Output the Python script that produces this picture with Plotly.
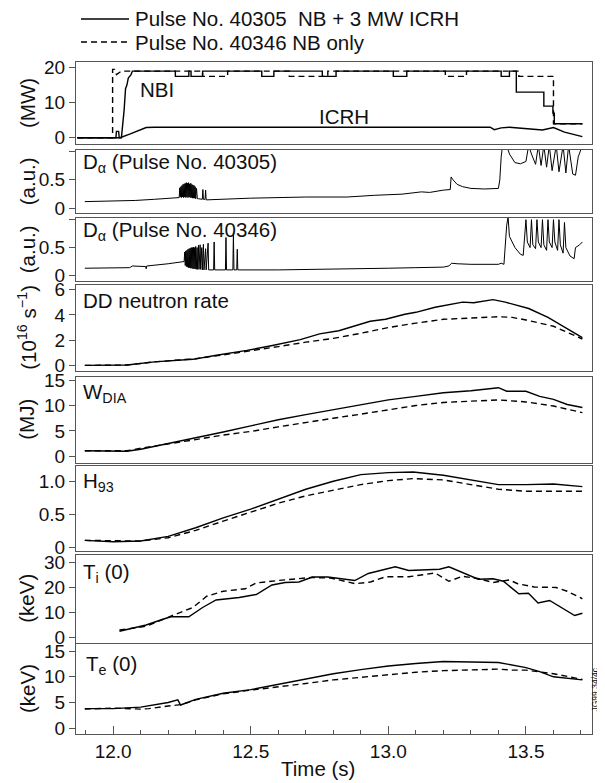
import plotly.graph_objects as go
from plotly.subplots import make_subplots

# ---------------- data ----------------
# Panel 1: heating power (MW)
nbi1_t = [11.87, 12.01, 12.012, 12.02, 12.022, 12.03, 12.04, 12.045, 12.05, 12.055, 12.065, 12.07,
          12.226, 12.226, 12.275, 12.275, 12.283, 12.283, 12.325, 12.325,
          12.54, 12.54, 12.584, 12.584, 12.76, 12.76, 12.81, 12.81,
          13.018, 13.018, 13.067, 13.067, 13.41, 13.41, 13.44, 13.44, 13.465, 13.465,
          13.565, 13.565, 13.598, 13.598, 13.603, 13.603, 13.705]
nbi1_p = [0, 0, 1.8, 1.8, 0, 0, 8, 14, 15, 17, 18, 19,
          19, 17.5, 17.5, 19, 19, 17.5, 17.5, 19,
          19, 17.5, 17.5, 19, 19, 17.5, 17.5, 19,
          19, 17.5, 17.5, 19, 19, 17.5, 17.5, 19, 19, 13,
          13, 9, 9, 7, 7, 4, 4]
nbi2_t = [11.87, 11.998, 11.998, 12.005, 12.012, 12.03, 12.325, 12.325, 12.416, 12.416,
          12.64, 12.64, 12.78, 12.78, 13.207, 13.207, 13.284, 13.284, 13.474, 13.474,
          13.6, 13.6, 13.705]
nbi2_p = [0, 0, 19.5, 19.5, 18, 19, 19, 17.5, 17.5, 19,
          19, 17.5, 17.5, 19, 19, 17.5, 17.5, 19, 19, 17.5,
          17.5, 4, 4]
icrh_t = [11.87, 12.025, 12.06, 12.12, 12.15, 13.37, 13.385, 13.41, 13.44, 13.47, 13.56, 13.6, 13.64, 13.705]
icrh_p = [0, 0, 1.0, 2.9, 3.0, 3.0, 2.3, 2.8, 3.0, 2.8, 2.2, 2.9, 1.6, 0.3]

# Panel 2: D-alpha, pulse 40305 (a.u.)
da1_t = [11.897, 12.0, 12.08, 12.15, 12.2, 12.238,
         12.240, 12.242, 12.244, 12.246, 12.248, 12.250, 12.252, 12.254, 12.256, 12.258,
         12.260, 12.262, 12.264, 12.266, 12.268, 12.270, 12.272, 12.274, 12.276, 12.278,
         12.280, 12.282, 12.284, 12.286, 12.288, 12.290, 12.292, 12.294, 12.296, 12.298,
         12.300, 12.303, 12.306, 12.310, 12.324, 12.326, 12.328, 12.334, 12.336, 12.338,
         12.5, 12.7, 12.85, 12.95, 13.05, 13.12, 13.15, 13.2, 13.225, 13.228, 13.235,
         13.25, 13.27, 13.3, 13.35, 13.4, 13.405, 13.41, 13.415, 13.43, 13.44, 13.46,
         13.48, 13.5, 13.51, 13.52, 13.535, 13.545, 13.555, 13.565, 13.575, 13.585,
         13.595, 13.61, 13.62, 13.635, 13.645, 13.655, 13.67, 13.68, 13.69, 13.705]
da1_v = [0.12, 0.125, 0.14, 0.16, 0.17, 0.18,
         0.19, 0.36, 0.20, 0.38, 0.19, 0.40, 0.20, 0.42, 0.19, 0.43,
         0.20, 0.44, 0.19, 0.45, 0.20, 0.44, 0.19, 0.45, 0.20, 0.43,
         0.19, 0.44, 0.19, 0.42, 0.18, 0.41, 0.18, 0.40, 0.18, 0.38,
         0.17, 0.35, 0.17, 0.17, 0.16, 0.33, 0.16, 0.16, 0.32, 0.15,
         0.18, 0.20, 0.20, 0.23, 0.25, 0.29, 0.28, 0.32, 0.33, 0.55, 0.50,
         0.42, 0.38, 0.35, 0.34, 0.35, 0.50, 0.90, 1.10, 1.10, 0.95, 0.80,
         0.78, 0.82, 1.10, 0.95, 0.77, 1.10, 0.75, 1.10, 0.72, 1.10,
         0.66, 1.10, 0.64, 1.10, 0.62, 1.10, 0.60, 0.58, 0.90, 1.10]

# Panel 3: D-alpha, pulse 40346 (a.u.)
da2_t = [11.897, 12.0, 12.06, 12.07, 12.1, 12.118, 12.12, 12.122, 12.2, 12.256,
         12.258, 12.260, 12.262, 12.264, 12.266, 12.268, 12.270, 12.272, 12.274, 12.276,
         12.278, 12.280, 12.282, 12.284, 12.286, 12.288, 12.290, 12.292, 12.294, 12.296,
         12.298, 12.300, 12.302, 12.305, 12.307, 12.310, 12.312, 12.316, 12.318, 12.322,
         12.324, 12.328, 12.330, 12.336, 12.338, 12.345, 12.347, 12.365, 12.367, 12.369,
         12.408, 12.410, 12.412, 12.435, 12.437, 12.439, 12.449, 12.451, 12.453,
         12.6, 12.8, 13.0, 13.1, 13.2, 13.22, 13.23, 13.25, 13.3, 13.4, 13.41, 13.42,
         13.43, 13.435, 13.44, 13.46, 13.48, 13.49, 13.5, 13.505, 13.515, 13.52, 13.525,
         13.535, 13.54, 13.545, 13.555, 13.56, 13.565, 13.575, 13.58, 13.585, 13.595,
         13.6, 13.605, 13.615, 13.62, 13.625, 13.635, 13.64, 13.645, 13.66, 13.675,
         13.68, 13.695, 13.705]
da2_v = [0.13, 0.13, 0.14, 0.17, 0.17, 0.16, 0.12, 0.17, 0.21, 0.25,
         0.25, 0.42, 0.18, 0.44, 0.16, 0.45, 0.15, 0.47, 0.14, 0.48,
         0.14, 0.49, 0.13, 0.50, 0.13, 0.50, 0.12, 0.51, 0.12, 0.50,
         0.12, 0.52, 0.11, 0.50, 0.11, 0.54, 0.11, 0.55, 0.11, 0.50,
         0.10, 0.56, 0.10, 0.48, 0.10, 0.58, 0.10, 0.10, 0.60, 0.10,
         0.10, 0.68, 0.10, 0.10, 0.75, 0.10, 0.10, 0.47, 0.10,
         0.10, 0.11, 0.13, 0.14, 0.15, 0.17, 0.22, 0.21, 0.20, 0.20, 0.22, 0.20,
         0.90, 1.05, 0.70, 0.50, 0.38, 0.36, 1.00, 0.60, 0.50, 1.00, 0.55,
         0.48, 1.00, 0.60, 0.50, 1.00, 0.55, 0.45, 1.00, 0.60, 0.50,
         1.00, 0.60, 0.45, 1.00, 0.55, 0.40, 0.95, 0.50, 0.35, 0.30,
         0.50, 0.55, 0.60]

# Panel 4: DD neutron rate (10^16 s^-1)
neut_t = [11.897, 12.05, 12.15, 12.29, 12.37, 12.486, 12.57, 12.68, 12.75, 12.82, 12.934,
          12.99, 13.06, 13.1, 13.17, 13.27, 13.31, 13.38, 13.425, 13.51, 13.58, 13.65, 13.705]
neut_1 = [0.02, 0.05, 0.3, 0.5, 0.8, 1.2, 1.55, 2.05, 2.5, 2.75, 3.5,
          3.65, 4.05, 4.2, 4.6, 5.0, 4.95, 5.2, 5.0, 4.5, 3.8, 2.9, 2.2]
neut2_t = [11.897, 12.05, 12.15, 12.3, 12.4, 12.5, 12.6, 12.7, 12.8, 12.9, 13.0, 13.1,
           13.2, 13.3, 13.4, 13.45, 13.5, 13.6, 13.705]
neut_2 = [0.02, 0.05, 0.3, 0.55, 0.85, 1.15, 1.5, 1.85, 2.15, 2.55, 3.0, 3.35,
          3.65, 3.75, 3.85, 3.8, 3.6, 3.1, 2.1]

# Panel 5: diamagnetic energy (MJ)
w_t = [11.897, 12.05, 12.1, 12.2, 12.3, 12.4, 12.5, 12.6, 12.7, 12.8, 12.9, 13.0, 13.1,
       13.2, 13.3, 13.4, 13.43, 13.5, 13.55, 13.6, 13.65, 13.705]
w_1 = [1.1, 1.0, 1.4, 2.5, 3.7, 4.8, 6.0, 7.2, 8.2, 9.2, 10.1, 11.1, 11.8,
       12.5, 12.9, 13.5, 12.8, 12.8, 11.8, 11.2, 10.2, 9.6]
w2_t = [11.897, 12.05, 12.1, 12.2, 12.3, 12.4, 12.5, 12.6, 12.7, 12.8, 12.9, 13.0, 13.1,
        13.2, 13.3, 13.4, 13.5, 13.6, 13.705]
w_2 = [1.1, 1.1, 1.6, 2.4, 3.3, 4.2, 4.9, 5.8, 6.7, 7.5, 8.3, 9.2, 10.0,
       10.6, 10.9, 11.1, 10.7, 9.9, 8.6]

# Panel 6: H93 confinement factor
h_t = [11.897, 12.0, 12.1, 12.2, 12.3, 12.4, 12.5, 12.6, 12.7, 12.8, 12.9, 13.0, 13.09,
       13.2, 13.3, 13.4, 13.5, 13.6, 13.705]
h_1 = [0.11, 0.09, 0.10, 0.17, 0.30, 0.45, 0.58, 0.73, 0.88, 1.00, 1.10, 1.13, 1.14,
       1.09, 1.02, 0.95, 0.95, 0.96, 0.92]
h_2 = [0.11, 0.10, 0.10, 0.15, 0.26, 0.40, 0.54, 0.67, 0.78, 0.87, 0.95, 1.01, 1.04,
       1.02, 0.95, 0.88, 0.85, 0.85, 0.85]

# Panel 7: central ion temperature (keV)
ti1_t = [12.023, 12.065, 12.12, 12.178, 12.21, 12.275, 12.325, 12.374, 12.458, 12.52, 12.577,
         12.625, 12.675, 12.724, 12.78, 12.878, 12.927, 13.025, 13.074, 13.186, 13.22, 13.327,
         13.38, 13.418, 13.474, 13.509, 13.544, 13.586, 13.677, 13.705]
ti_1 = [2.5, 3.5, 5.0, 7.2, 8.3, 8.3, 12.0, 15.0, 16.0, 17.2, 21.0,
        22.0, 22.2, 24.2, 24.2, 22.8, 25.6, 28.3, 26.8, 27.3, 28.3, 23.3,
        23.5, 22.5, 17.5, 17.7, 13.8, 14.8, 8.8, 9.7]
ti2_t = [12.023, 12.12, 12.22, 12.29, 12.34, 12.4, 12.48, 12.52, 12.6, 12.72, 12.79, 12.88,
         12.935, 12.99, 13.074, 13.17, 13.22, 13.27, 13.33, 13.38, 13.44, 13.47, 13.53, 13.61,
         13.65, 13.705]
ti_2 = [3.0, 4.5, 9.0, 12.0, 16.5, 18.5, 19.5, 21.8, 22.8, 24.0, 23.8, 21.5,
        22.2, 24.3, 24.3, 25.8, 22.5, 24.5, 23.5, 22.0, 23.0, 21.5, 20.2, 20.0,
        18.5, 15.5]

# Panel 8: central electron temperature (keV)
te1_t = [11.897, 12.0, 12.1, 12.2, 12.235, 12.245, 12.3, 12.4, 12.5, 12.6, 12.7, 12.8, 12.9,
         13.0, 13.1, 13.2, 13.3, 13.4, 13.5, 13.55, 13.6, 13.65, 13.705]
te_1 = [3.8, 3.8, 4.1, 5.0, 5.5, 4.5, 5.6, 6.8, 7.5, 8.5, 9.6, 10.6, 11.4,
        12.1, 12.6, 13.0, 12.9, 12.8, 11.8, 11.0, 10.0, 9.7, 9.4]
te2_t = [11.897, 12.0, 12.1, 12.13, 12.2, 12.25, 12.3, 12.4, 12.5, 12.6, 12.7, 12.8, 12.9,
         13.0, 13.1, 13.2, 13.3, 13.4, 13.45, 13.5, 13.6, 13.705]
te_2 = [3.7, 3.9, 3.7, 3.8, 4.3, 4.6, 5.5, 6.7, 7.4, 8.0, 8.7, 9.4, 9.9,
        10.4, 10.9, 11.2, 11.4, 11.5, 11.3, 11.3, 10.6, 9.5]

x_ticks = [12.0, 12.5, 13.0, 13.5]
x_tick_labels = ["12.0", "12.5", "13.0", "13.5"]
legend_labels = ["Pulse No. 40305  NB + 3 MW ICRH", "Pulse No. 40346 NB only"]

# ---------------- layout geometry (screen pixels; page body adds an 8 px offset) ----------------
OFF = 8
SCR_W, SCR_H = 605, 783
W, H = SCR_W - OFF, SCR_H - OFF
PLOT_L, PLOT_R, PLOT_T, PLOT_B = 76, 592, 62, 734     # plot area on screen
L, R, T, B = PLOT_L - OFF, SCR_W - PLOT_R, PLOT_T - OFF, SCR_H - PLOT_B
plot_w = PLOT_R - PLOT_L
plot_h = PLOT_B - PLOT_T
panels_px = [(62, 144), (150, 212.5), (218, 280.5), (285, 370.5), (377, 462.5),
             (466, 551), (555, 642.5), (644, 734)]

def py(px):  # screen row -> paper y
    return (PLOT_B - px) / plot_h

def pxx(px):  # screen column -> paper x
    return (px - PLOT_L) / plot_w

domains = [[max(0.0, py(b)), min(1.0, py(t))] for (t, b) in panels_px]

y_ranges = [[-1.8, 21.6], [-0.07, 1.02], [-0.09, 1.03], [-0.38, 6.35],
            [-1.2, 15.6], [-0.05, 1.23], [-2.0, 33.0], [-1.15, 16.4]]
y_tickvals = [[0, 10, 20], [0, 0.5], [0, 0.5], [0, 2, 4, 6],
              [0, 5, 10, 15], [0, 0.5, 1.0], [0, 10, 20, 30], [0, 5, 10, 15]]
y_ticktext = [["0", "10", "20"], ["0", "0.5"], ["0", "0.5"], ["0", "2", "4", "6"],
              ["0", "5", "10", "15"], ["0", "0.5", "1.0"], ["0", "10", "20", "30"],
              ["0", "5", "10", "15"]]
y_extra_ticks = [[], [1.0], [1.0], [], [], [], [], []]
y_units = ["(MW)", "(a.u.)", "(a.u.)", "(10<sup>16</sup> s<sup>−1</sup>)", "(MJ)", "", "(keV)", "(keV)"]

FONT = "Liberation Sans, Arial, Helvetica, sans-serif"
INK = "#111"
FRAME = "#555"
TICK_SIZE = 19
TEXT_SIZE = 20.5
DASH = "6px,4px"

fig = make_subplots(rows=8, cols=1, shared_xaxes=False)

solid = dict(color="black", width=1.4)
dashed = dict(color="black", width=1.4, dash=DASH)

def add(row, x, y, line):
    fig.add_trace(go.Scatter(x=x, y=y, mode="lines", line=line, showlegend=False,
                             hoverinfo="skip"), row=row, col=1)

add(1, nbi1_t, nbi1_p, solid)
add(1, nbi2_t, nbi2_p, dashed)
add(1, icrh_t, icrh_p, solid)
add(2, da1_t, da1_v, dict(color="black", width=1))
add(3, da2_t, da2_v, dict(color="black", width=1))
add(4, neut_t, neut_1, solid)
add(4, neut2_t, neut_2, dashed)
add(5, w_t, w_1, solid)
add(5, w2_t, w_2, dashed)
add(6, h_t, h_1, solid)
add(6, h_t, h_2, dashed)
add(7, ti1_t, ti_1, solid)
add(7, ti2_t, ti_2, dashed)
add(8, te1_t, te_1, solid)
add(8, te2_t, te_2, dashed)

xr = [11.865, 13.74]
for i in range(8):
    n = "" if i == 0 else str(i + 1)
    last = (i == 7)
    fig.layout["xaxis" + n].update(
        range=xr, domain=[0, 1], showline=True, mirror=True, linecolor=FRAME, linewidth=1,
        showgrid=False, zeroline=False, automargin=False,
        ticks="inside" if last else "", ticklen=8, tickcolor=FRAME,
        tickvals=x_ticks if last else [], ticktext=x_tick_labels if last else [],
        showticklabels=last, tickfont=dict(family=FONT, size=TICK_SIZE, color=INK),
        minor=dict(ticks="inside", ticklen=4, dtick=0.1, tick0=11.9, tickcolor=FRAME) if last else dict(ticks=""),
        anchor="y" + n, fixedrange=True)
    minor = dict(ticks="outside", ticklen=6, tickvals=y_extra_ticks[i], tickcolor=FRAME) \
        if y_extra_ticks[i] else dict(ticks="")
    fig.layout["yaxis" + n].update(
        range=y_ranges[i], domain=domains[i], showline=True, mirror=True, linecolor=FRAME,
        linewidth=1, showgrid=False, zeroline=False, ticks="outside", ticklen=6,
        tickcolor=FRAME, tickvals=y_tickvals[i], ticktext=y_ticktext[i], automargin=False,
        minor=minor,
        tickfont=dict(family=FONT, size=TICK_SIZE, color=INK), anchor="x" + n, fixedrange=True)

ann = []
# unit labels
for i, u in enumerate(y_units):
    if not u:
        continue
    d0, d1 = domains[i]
    ann.append(dict(text=u, xref="paper", yref="paper", x=pxx(27), y=(d0 + d1) / 2,
                    textangle=-90, showarrow=False, xanchor="center", yanchor="middle",
                    font=dict(family=FONT, size=TEXT_SIZE, color=INK)))

def lab(text, row, x, y, xanchor="left"):
    n = "" if row == 1 else str(row)
    ann.append(dict(text=text, xref="x" + n, yref="y" + n, x=x, y=y, showarrow=False,
                    xanchor=xanchor, yanchor="middle", font=dict(family=FONT, size=TEXT_SIZE, color=INK)))

lab("NBI", 1, 12.09, 13.8)
lab("ICRH", 1, 12.84, 6.0, "center")
lab("D<sub>α</sub> (Pulse No. 40305)", 2, 11.882, 0.8)
lab("D<sub>α</sub> (Pulse No. 40346)", 3, 11.882, 0.8)
lab("DD neutron rate", 4, 11.882, 5.1)
lab("W<sub>DIA</sub>", 5, 11.882, 12.4)
lab("H<sub>93</sub>", 6, 11.882, 0.99)
lab("T<sub>i</sub> (0)", 7, 11.882, 26)
lab("T<sub>e</sub> (0)", 8, 11.895, 12.3)

# x-axis title
ann.append(dict(text="Time (s)", xref="paper", yref="paper", x=pxx(318), y=py(768),
                showarrow=False, xanchor="center", yanchor="middle",
                font=dict(family=FONT, size=TEXT_SIZE, color=INK)))
# figure code on the right (the visible page ends a few pixels right of the frame)
ann.append(dict(text="JG99.34/4c", xref="paper", yref="paper", x=pxx(594.5), y=py(690),
                textangle=-90, showarrow=False, xanchor="center", yanchor="middle",
                borderpad=0, font=dict(family=FONT, size=8.5, color=INK)))

# legend (sample lines + labels) above the top panel
shapes = []
legend_rows = [19, 42]
legend_dash = ["solid", DASH]
for row_px, dsh, txt in zip(legend_rows, legend_dash, legend_labels):
    shapes.append(dict(type="line", xref="paper", yref="paper", x0=pxx(81), x1=pxx(129),
                       y0=py(row_px), y1=py(row_px), line=dict(color="black", width=1.3, dash=dsh)))
    ann.append(dict(text=txt, xref="paper", yref="paper", x=pxx(133), y=py(row_px),
                    showarrow=False, xanchor="left", yanchor="middle",
                    font=dict(family=FONT, size=TEXT_SIZE, color=INK)))

fig.update_layout(
    width=W, height=H, margin=dict(l=L, r=R, t=T, b=B, autoexpand=False),
    paper_bgcolor="white", plot_bgcolor="white",
    annotations=ann, shapes=shapes, showlegend=False,
)

fig.write_html("out.html")
